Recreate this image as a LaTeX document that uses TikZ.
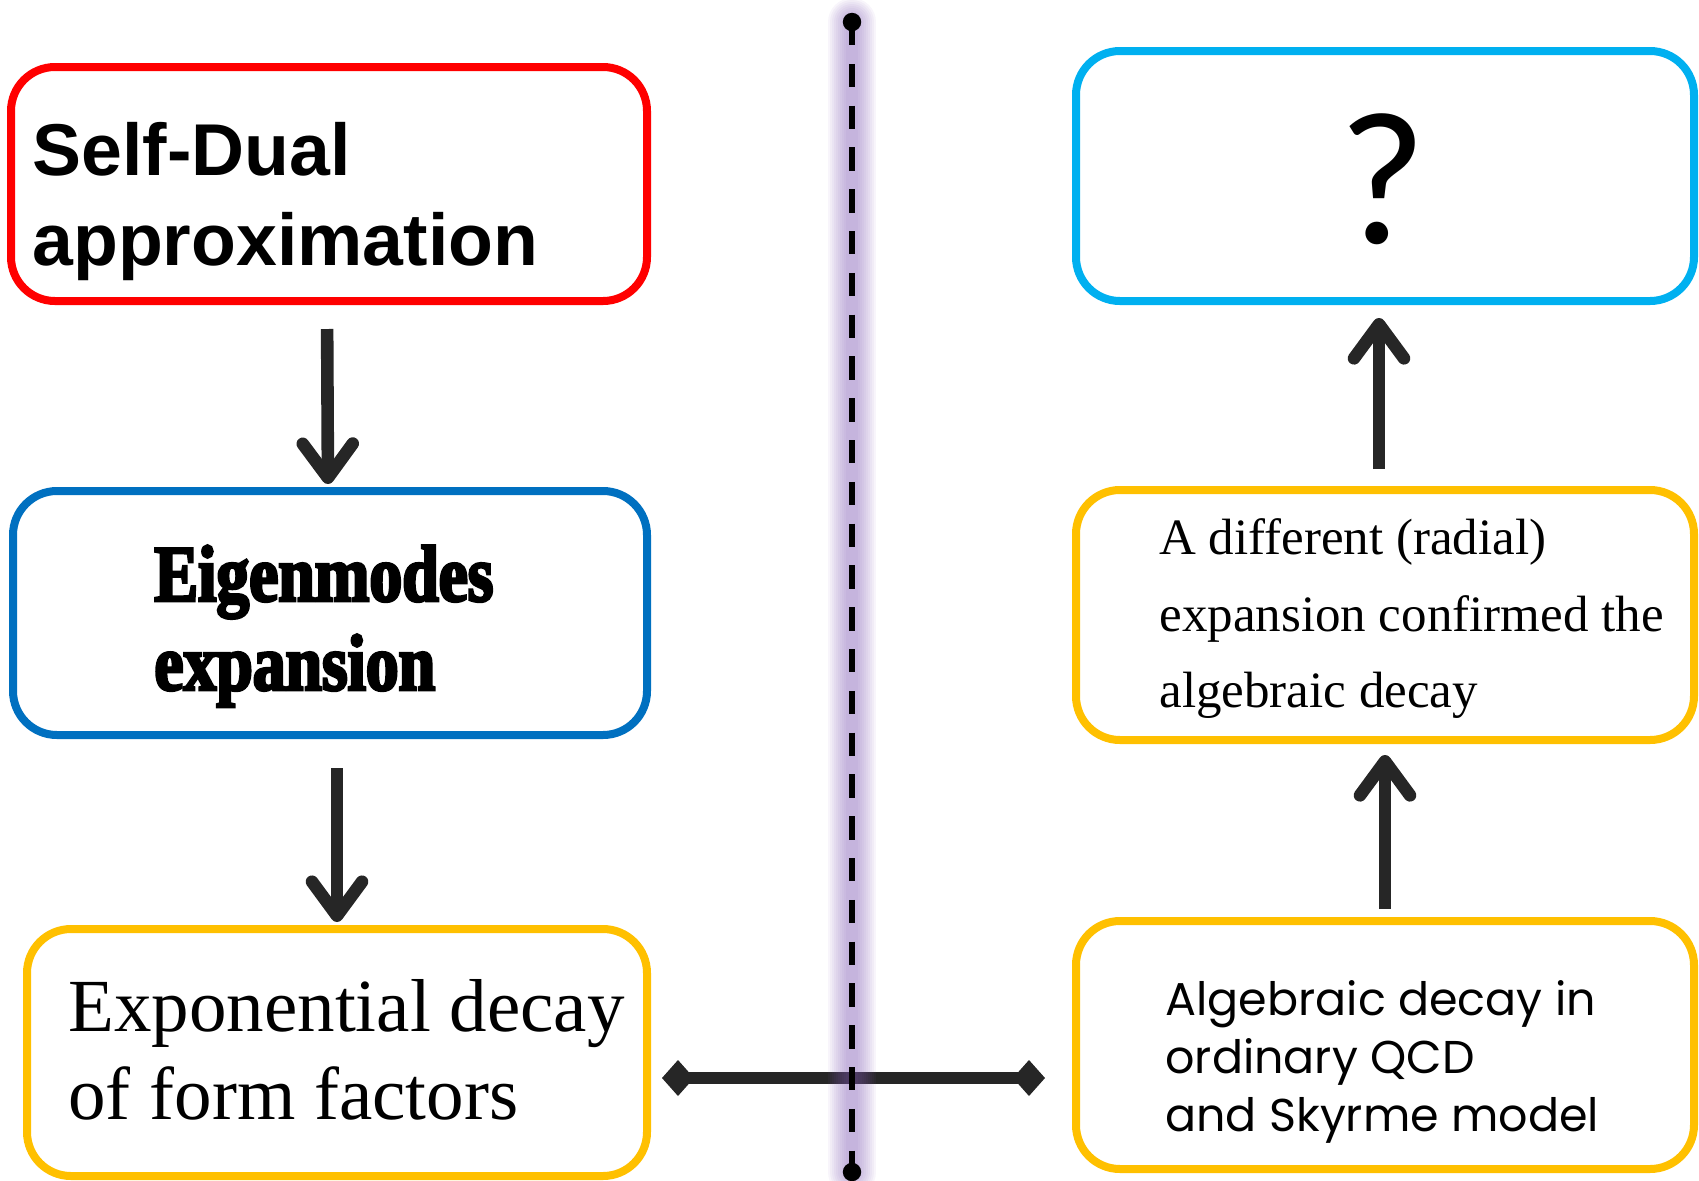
\documentclass[tikz,border=0pt]{standalone}
\usepackage{fontspec}
\setmainfont{Liberation Serif}
\newfontfamily\sdfont{Liberation Sans}
\newfontfamily\eigfont{Liberation Serif}[FakeBold=3.5,FakeStretch=0.82]
\newfontfamily\qfont{Carlito}
\newfontfamily\algfont{Poppins}
\usetikzlibrary{arrows.meta}
\definecolor{cred}{RGB}{255,0,0}
\definecolor{cblue}{RGB}{0,112,192}
\definecolor{cyell}{RGB}{255,192,0}
\definecolor{clblue}{RGB}{0,176,240}
\definecolor{cdark}{RGB}{38,38,38}
\definecolor{cglow}{RGB}{128,90,180}
\tikzset{
  box/.style={draw=#1, line width=4pt, rounded corners=22pt, inner sep=0pt},
  arr/.style={draw=cdark, line width=6.3pt, -{Straight Barb[length=17pt,width=25pt,round]}},
  conn/.style={draw=cdark, line width=6pt, {Diamond[length=16pt,width=18pt]}-{Diamond[length=16pt,width=18pt]}},
  txt/.style={anchor=base west, align=left, inner sep=0pt, text=black},
  glow/.style={draw=cglow, line cap=round, opacity=0.06, line width=#1},
}
\begin{document}
\begin{tikzpicture}[x=0.5pt,y=-0.5pt]
\useasboundingbox (0,0) rectangle (1699,1180);
% boxes
\node[box=cred, minimum width=318pt, minimum height=117pt] (sd) at (329,184) {};
\node[box=cblue, minimum width=317pt, minimum height=122pt] (eig) at (330,613) {};
\node[box=cyell, minimum width=310pt, minimum height=123.5pt] (exp) at (337,1052.5) {};
\node[box=clblue, minimum width=309pt, minimum height=125pt] (q) at (1385,176) {};
\node[box=cyell, minimum width=309pt, minimum height=125pt] (rad) at (1385,615) {};
\node[box=cyell, minimum width=309pt, minimum height=124pt] (alg) at (1385,1045) {};
% texts (anchor = baseline of last line)
\node[txt, font={\sdfont\bfseries\fontsize{36.7pt}{45pt}\selectfont}] (sdt) at (32,265.5) {Self-Dual\\approximation};
\node[txt, font={\eigfont\bfseries\fontsize{40pt}{44.5pt}\selectfont}] (eigt) at (154,690) {Eigenmodes\\expansion};
\node[txt, font={\fontsize{37.5pt}{44pt}\selectfont}] (expt) at (68,1119) {Exponential decay\\of form factors};
\node[inner sep=0pt, font={\qfont\fontsize{95pt}{95pt}\selectfont}] (qt) at (1383,179) {?};
\node[txt, font={\fontsize{25.5pt}{38.25pt}\selectfont}] (radt) at (1159,707.5) {A different (radial)\\expansion confirmed the\\algebraic decay};
\node[txt, font={\algfont\fontsize{23pt}{29pt}\selectfont}] (algt) at (1165,1131) {Algebraic decay in\\ordinary QCD\\and Skyrme model};
% arrows
\draw[arr, shorten <=12pt, shorten >=1.5pt] ([xshift=-1pt]sd.south) -- ([xshift=-1pt]eig.north);
\draw[arr, shorten <=14.5pt, shorten >=1.5pt] (exp.north |- eig.south) -- (exp.north);
\draw[arr, shorten <=8.5pt, shorten >=6.5pt] ([xshift=-3pt]rad.north) -- ([xshift=-3pt]q.south);
\draw[arr, shorten <=4pt, shorten >=5.5pt] (alg.north) -- (rad.south);
% horizontal connector
\draw[conn, shorten <=5.5pt, shorten >=13.5pt] ([yshift=-12.75pt]exp.east) -- ([yshift=-16.5pt]alg.west);
% separator with soft glow
\coordinate (top) at (852,22);
\coordinate (bot) at (852,1172);
\foreach \w in {24,22,20,18,16,14,12,10,8,6}
  \draw[glow=\w pt] (top) -- (bot);
\draw[black, line width=3pt, dash pattern=on 11.7pt off 9.2pt] (top) -- (bot);
\fill[black] (top) circle (4.6pt);
\fill[black] (bot) circle (4.6pt);
\end{tikzpicture}
\end{document}
